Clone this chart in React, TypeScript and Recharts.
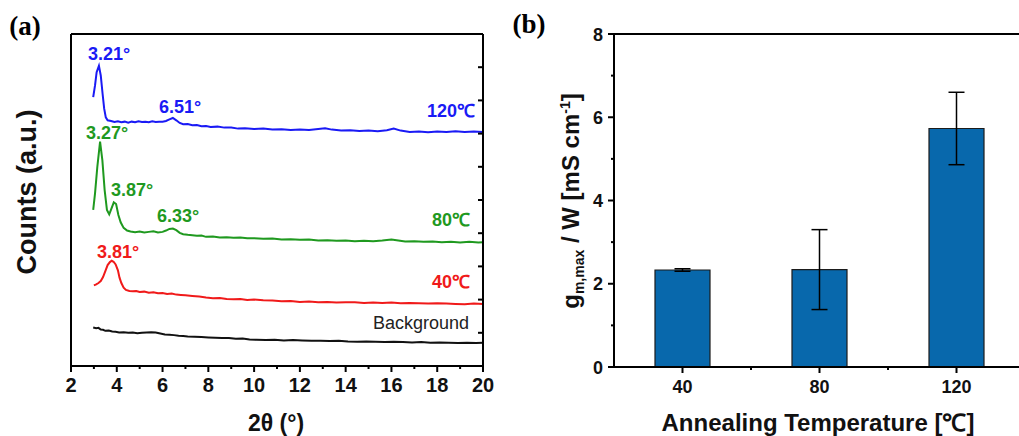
import { LineChart, Line, XAxis, YAxis, BarChart, Bar, ErrorBar } from "recharts";

// ---------------------------------------------------------------------------
// Data: XRD traces (2θ, counts offset) and gm,max / W bars
// ---------------------------------------------------------------------------

const bgTrace: [number, number][] = [
  [2.97, 11.6], [3.1, 11.4], [3.2, 11.5], [3.3, 11.0], [3.4, 10.9], [3.5, 10.6], [3.65, 10.7], [3.8, 10.4],
  [3.95, 10.3], [4.1, 10.1], [4.3, 10.2], [4.5, 10.0], [4.7, 10.1], [4.9, 9.9], [5.1, 10.0], [5.3, 10.1],
  [5.5, 10.2], [5.7, 10.1], [5.9, 9.8], [6.1, 9.5], [6.3, 9.4], [6.5, 9.3], [6.7, 9.1], [6.9, 9.0],
  [7.1, 8.9], [7.4, 8.8], [7.7, 8.7], [8.0, 8.6], [8.3, 8.5], [8.6, 8.4], [8.9, 8.4], [9.2, 8.2],
  [9.5, 8.3], [9.8, 8.0], [10.1, 7.9], [10.5, 7.8], [10.9, 7.9], [11.3, 7.7], [11.7, 7.8], [12.1, 7.7],
  [12.5, 7.6], [12.9, 7.6], [13.3, 7.5], [13.7, 7.6], [14.1, 7.4], [14.5, 7.3], [14.9, 7.4], [15.3, 7.3],
  [15.7, 7.2], [16.1, 7.3], [16.5, 7.2], [16.9, 7.1], [17.3, 7.2], [17.7, 7.0], [18.1, 7.1], [18.5, 7.0],
  [18.9, 6.9], [19.3, 7.0], [19.7, 6.9], [20.0, 7.0],
];

const trace40: [number, number][] = [
  [3.0, 24.3], [3.1, 24.6], [3.2, 25.0], [3.3, 25.6], [3.4, 26.8], [3.5, 28.6], [3.6, 30.4], [3.7, 31.3],
  [3.78, 31.7], [3.86, 31.4], [3.95, 30.6], [4.05, 28.8], [4.12, 26.6], [4.2, 25.0], [4.3, 23.6], [4.4, 22.9],
  [4.55, 22.6], [4.7, 22.5], [4.85, 22.6], [5.0, 22.3], [5.2, 22.4], [5.4, 22.1], [5.6, 22.2], [5.8, 21.9],
  [6.0, 22.0], [6.2, 21.7], [6.4, 21.8], [6.6, 21.5], [6.8, 21.4], [7.0, 21.3], [7.3, 21.1], [7.6, 20.9],
  [7.9, 20.6], [8.2, 20.4], [8.5, 20.5], [8.8, 20.2], [9.1, 20.1], [9.4, 20.2], [9.7, 19.9], [10.0, 20.0],
  [10.4, 19.8], [10.8, 19.7], [11.2, 19.5], [11.6, 19.6], [12.0, 19.3], [12.4, 19.4], [12.8, 19.2], [13.2, 19.3],
  [13.6, 19.1], [14.0, 19.2], [14.4, 19.2], [14.8, 19.0], [15.2, 19.1], [15.6, 19.0], [16.0, 19.1], [16.4, 18.9],
  [16.8, 19.0], [17.2, 18.9], [17.6, 18.8], [18.0, 18.9], [18.4, 18.8], [18.8, 18.7], [19.2, 18.6], [19.6, 18.8],
  [20.0, 18.7],
];

const trace80: [number, number][] = [
  [2.97, 47.0], [3.05, 52.0], [3.15, 60.0], [3.27, 67.6], [3.37, 62.0], [3.47, 53.0], [3.57, 47.0], [3.67, 45.7],
  [3.77, 47.5], [3.87, 49.3], [3.97, 48.8], [4.07, 45.5], [4.17, 43.3], [4.3, 41.6], [4.45, 40.8], [4.6, 40.5],
  [4.8, 40.3], [5.0, 40.5], [5.2, 40.2], [5.4, 40.4], [5.6, 40.6], [5.8, 40.2], [6.0, 40.4], [6.15, 40.8],
  [6.3, 41.3], [6.45, 41.4], [6.6, 40.9], [6.75, 40.1], [6.9, 39.7], [7.1, 39.5], [7.3, 39.4], [7.5, 39.2],
  [7.7, 39.3], [7.9, 38.9], [8.2, 39.0], [8.5, 38.7], [8.8, 38.8], [9.1, 38.6], [9.4, 38.7], [9.7, 38.5],
  [10.0, 38.5], [10.4, 38.3], [10.8, 38.4], [11.2, 38.1], [11.6, 38.2], [12.0, 38.0], [12.4, 38.1], [12.8, 37.8],
  [13.2, 37.9], [13.6, 37.7], [14.0, 37.8], [14.4, 37.6], [14.8, 37.7], [15.2, 37.6], [15.6, 37.8], [16.0, 38.1],
  [16.3, 37.8], [16.6, 37.5], [17.0, 37.6], [17.4, 37.4], [17.8, 37.5], [18.2, 37.3], [18.6, 37.4], [19.0, 37.2],
  [19.4, 37.4], [19.8, 37.2], [20.0, 37.3],
];

const trace120: [number, number][] = [
  [2.97, 81.0], [3.05, 84.5], [3.12, 88.5], [3.22, 90.4], [3.3, 87.5], [3.38, 82.0], [3.45, 77.5], [3.52, 74.9],
  [3.6, 74.0], [3.75, 73.8], [3.9, 73.5], [4.05, 73.7], [4.2, 73.4], [4.35, 73.6], [4.5, 73.3], [4.65, 73.6],
  [4.8, 73.4], [4.95, 73.7], [5.1, 73.5], [5.25, 73.6], [5.4, 73.4], [5.55, 73.7], [5.7, 73.5], [5.85, 73.6],
  [6.0, 73.6], [6.15, 73.8], [6.3, 74.3], [6.45, 74.7], [6.6, 74.0], [6.75, 73.2], [6.9, 72.8], [7.1, 72.9],
  [7.3, 72.5], [7.5, 72.6], [7.7, 72.2], [7.9, 72.3], [8.1, 72.0], [8.4, 72.1], [8.7, 71.8], [9.0, 71.8],
  [9.3, 71.5], [9.6, 71.6], [10.0, 71.4], [10.4, 71.5], [10.8, 71.2], [11.2, 71.3], [11.6, 71.1], [12.0, 71.2],
  [12.4, 71.1], [12.8, 71.4], [13.1, 71.6], [13.4, 71.2], [13.8, 70.9], [14.2, 71.0], [14.6, 70.8], [15.0, 70.9],
  [15.4, 70.7], [15.8, 71.0], [16.1, 71.5], [16.4, 70.9], [16.8, 70.5], [17.2, 70.6], [17.6, 70.4], [18.0, 70.6],
  [18.4, 70.5], [18.8, 70.7], [19.2, 70.5], [19.6, 70.6], [20.0, 70.5],
];

const xrdTicks = [2, 3, 4, 5, 6, 7, 8, 9, 10, 11, 12, 13, 14, 15, 16, 17, 18, 19, 20];
const xrdLabels = [2, 4, 6, 8, 10, 12, 14, 16, 18, 20];
const frameTicks = [0, 1, 2, 3, 4, 5, 6, 7, 8, 9, 10];

const annealTemps = [40, 80, 120];
const gmValues = [2.33, 2.34, 5.73];
const gmErrors = [0.03, 0.96, 0.87];
const tempTicks = [40, 60, 80, 100, 120, 140];
const tempLabels = [40, 80, 120];
const gmTicks = [0, 1, 2, 3, 4, 5, 6, 7, 8];
const gmLabels = [0, 2, 4, 6, 8];

// ---------------------------------------------------------------------------
// Helpers
// ---------------------------------------------------------------------------

const toPoints = (trace: [number, number][]) => trace.map(([x, y]) => ({ x, y }));

const SANS = "'Liberation Sans', Arial, sans-serif";
const INK = "#111";

const bottomTick = (labels: number[], fontSize: number, gap: number) => (props: any) => {
  const { x, y, payload } = props;
  const v = payload.value;
  const major = labels.includes(v);
  return (
    <g>
      <line x1={x} x2={x} y1={y} y2={y + (major ? 6 : 3)} stroke="#000" strokeWidth={2} />
      {major && (
        <text x={x} y={y + gap} textAnchor="middle" fontSize={fontSize} fontWeight="bold" fill={INK} fontFamily={SANS}>
          {v}
        </text>
      )}
    </g>
  );
};

const leftTick = (labels: number[], fontSize: number) => (props: any) => {
  const { x, y, payload } = props;
  const v = payload.value;
  const major = labels.includes(v);
  return (
    <g>
      <line x1={x - (major ? 6 : 3)} x2={x} y1={y} y2={y} stroke="#000" strokeWidth={2} />
      {major && (
        <text x={x - 11} y={y + 6.5} textAnchor="end" fontSize={fontSize} fontWeight="bold" fill={INK} fontFamily={SANS}>
          {v}
        </text>
      )}
    </g>
  );
};

const topTickIn = (props: any) => {
  const { x, y } = props;
  return <line x1={x} x2={x} y1={y} y2={y + 5} stroke="#000" strokeWidth={2} />;
};

const topTickOut = (props: any) => {
  const { x, y } = props;
  return <line x1={x} x2={x} y1={y - 5} y2={y} stroke="#000" strokeWidth={2} />;
};

const rightTickIn = (props: any) => {
  const { x, y } = props;
  return <line x1={x - 5} x2={x} y1={y} y2={y} stroke="#000" strokeWidth={2} />;
};

const frame = { stroke: "#000", strokeWidth: 2 };

function Note({ x, y, color, children, size = 18, weight = "bold" }: any) {
  return (
    <div
      style={{
        position: "absolute",
        left: x,
        top: y,
        transform: "translate(-50%, -50%)",
        color,
        fontSize: size,
        fontWeight: weight,
        lineHeight: 1,
        whiteSpace: "nowrap",
        fontFamily: SANS,
      }}
    >
      {children}
    </div>
  );
}

// ---------------------------------------------------------------------------
// Component
// ---------------------------------------------------------------------------

export default function App() {
  const barData = annealTemps.map((t, i) => ({ temp: t, gm: gmValues[i], err: gmErrors[i] }));

  return (
    <div
      style={{
        position: "fixed",
        left: 0,
        top: 0,
        width: 1019,
        height: 436,
        overflow: "hidden",
        background: "#fff",
        fontFamily: SANS,
      }}
    >
      {/* (a) XRD patterns: plot box 71..483 x 34..366 */}
      <div style={{ position: "absolute", left: 0, top: 0 }}>
        <LineChart width={500} height={436} margin={{ top: 24, right: 7, bottom: 40, left: 31 }}>
          <XAxis
            dataKey="x"
            type="number"
            domain={[2, 20]}
            ticks={xrdTicks}
            interval={0}
            height={30}
            tickSize={0}
            tickMargin={0}
            tickLine={false}
            axisLine={frame}
            tick={bottomTick(xrdLabels, 20, 26)}
            allowDataOverflow
          />
          <XAxis
            xAxisId="top"
            orientation="top"
            type="number"
            domain={[0, 10]}
            ticks={frameTicks}
            interval={0}
            height={10}
            tickSize={0}
            tickMargin={0}
            tickLine={false}
            axisLine={frame}
            tick={topTickIn}
            allowDataOverflow
          />
          <YAxis type="number" domain={[0, 100]} width={40} tick={false} tickLine={false} axisLine={frame} allowDataOverflow />
          <YAxis
            yAxisId="r"
            orientation="right"
            type="number"
            domain={[0, 10]}
            ticks={frameTicks}
            interval={0}
            width={10}
            tickSize={0}
            tickMargin={0}
            tickLine={false}
            axisLine={frame}
            tick={rightTickIn}
            allowDataOverflow
          />
          <Line data={toPoints(bgTrace)} dataKey="y" stroke="#111" strokeWidth={2} dot={false} isAnimationActive={false} />
          <Line data={toPoints(trace40)} dataKey="y" stroke="#f01a1a" strokeWidth={2} dot={false} isAnimationActive={false} />
          <Line data={toPoints(trace80)} dataKey="y" stroke="#1f991f" strokeWidth={2} dot={false} isAnimationActive={false} />
          <Line data={toPoints(trace120)} dataKey="y" stroke="#1a1af5" strokeWidth={2} dot={false} isAnimationActive={false} />
        </LineChart>
      </div>

      {/* (b) gm,max / W vs annealing temperature: plot box 614..1025 x 34..367 */}
      <div style={{ position: "absolute", left: 500, top: 0 }}>
        <BarChart width={540} height={436} data={barData} margin={{ top: 24, right: 15, bottom: 39, left: 74 }}>
          <XAxis
            dataKey="temp"
            type="number"
            domain={[20, 140]}
            ticks={tempTicks}
            interval={0}
            height={30}
            tickSize={0}
            tickMargin={0}
            tickLine={false}
            axisLine={frame}
            tick={bottomTick(tempLabels, 18, 26)}
            allowDataOverflow
          />
          <XAxis
            xAxisId="top"
            orientation="top"
            type="number"
            domain={[20, 140]}
            ticks={[40, 60, 80, 100, 120]}
            interval={0}
            height={10}
            tickSize={0}
            tickMargin={0}
            tickLine={false}
            axisLine={frame}
            tick={topTickOut}
            allowDataOverflow
          />
          <YAxis
            type="number"
            domain={[0, 8]}
            ticks={gmTicks}
            interval={0}
            width={40}
            tickSize={0}
            tickMargin={0}
            tickLine={false}
            axisLine={frame}
            tick={leftTick(gmLabels, 18)}
            allowDataOverflow
          />
          <Bar dataKey="gm" barSize={55} fill="#0868ac" stroke="#1b1b1b" strokeWidth={1.2} isAnimationActive={false}>
            <ErrorBar dataKey="err" width={8} stroke="#000" strokeWidth={1.5} direction="y" />
          </Bar>
        </BarChart>
      </div>

      {/* Panel letters */}
      <div style={{ position: "absolute", left: 25, top: 26, transform: "translate(-50%, -50%)", fontFamily: "'Liberation Serif', 'Times New Roman', serif", fontWeight: "bold", fontSize: 27, lineHeight: 1 }}>
        (a)
      </div>
      <div style={{ position: "absolute", left: 529, top: 24, transform: "translate(-50%, -50%)", fontFamily: "'Liberation Serif', 'Times New Roman', serif", fontWeight: "bold", fontSize: 27, lineHeight: 1 }}>
        (b)
      </div>

      {/* Axis titles */}
      <Note x={27} y={192} color={INK} size={27}>
        <div style={{ transform: "rotate(-90deg)" }}>Counts (a.u.)</div>
      </Note>
      <Note x={276} y={423} color={INK} size={23}>2θ (°)</Note>
      <Note x={572} y={201} color={INK} size={24}>
        <div style={{ transform: "rotate(-90deg)" }}>
          g<sub style={{ fontSize: 14 }}>m,max</sub> / W [mS cm<sup style={{ fontSize: 14 }}>-1</sup>]
        </div>
      </Note>
      <Note x={818} y={423} color={INK} size={24}>Annealing Temperature [℃]</Note>

      {/* Peak annotations */}
      <Note x={109} y={54} color="#1a1af5">3.21°</Note>
      <Note x={180} y={107} color="#1a1af5">6.51°</Note>
      <Note x={451} y={111} color="#1a1af5">120℃</Note>
      <Note x={107} y={133} color="#1f991f">3.27°</Note>
      <Note x={132} y={190} color="#1f991f">3.87°</Note>
      <Note x={178} y={216} color="#1f991f">6.33°</Note>
      <Note x={451} y={220} color="#1f991f">80℃</Note>
      <Note x={118} y={252} color="#f01a1a">3.81°</Note>
      <Note x={451} y={282} color="#f01a1a">40℃</Note>
      <Note x={421} y={323} color="#222" size={18} weight="normal">Background</Note>
    </div>
  );
}
